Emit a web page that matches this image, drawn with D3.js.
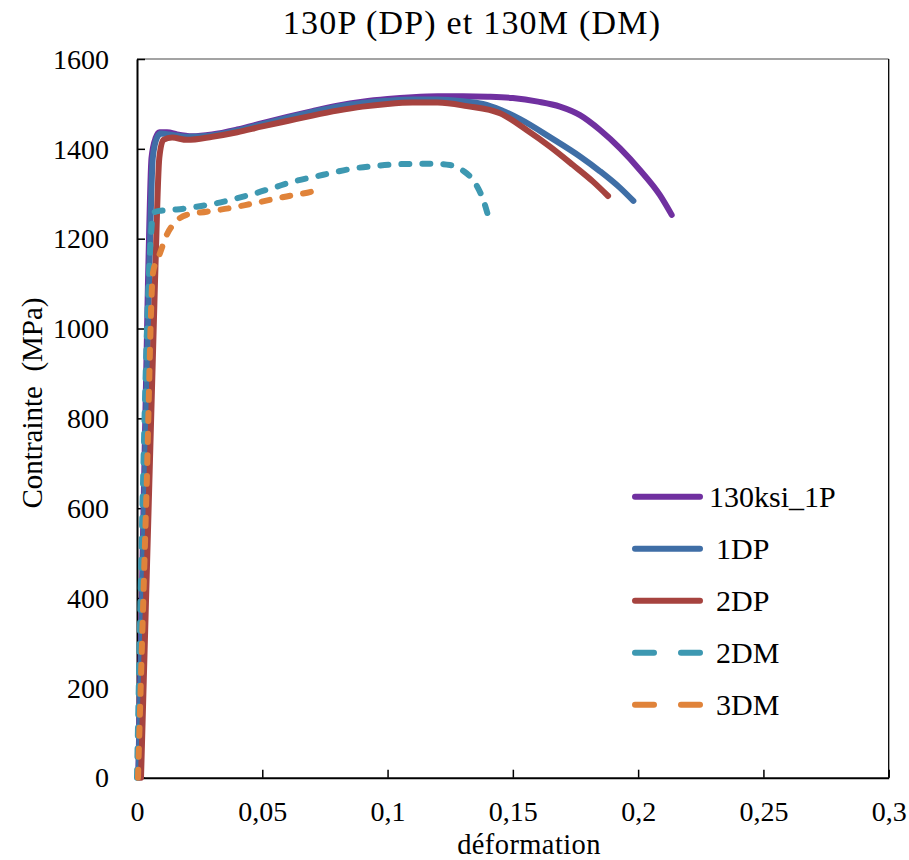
<!DOCTYPE html>
<html>
<head>
<meta charset="utf-8">
<script src="https://cdn.jsdelivr.net/npm/d3@7"></script>
<style>
html, body { margin: 0; padding: 0; background: #fff; }
svg { display: block; }
svg text { font-family: "Liberation Serif", "Times New Roman", Tinos, "DejaVu Serif", serif !important; fill: #000; }
</style>
</head>
<body>
<svg id="chart" width="909" height="860"></svg>
<script>
// ---- Data ----
const seriesNames = ["130ksi_1P", "1DP", "2DP", "2DM", "3DM"];
const seriesColors = ["#7030A0", "#3F6EA6", "#A6433F", "#3D98B1", "#E0833A"];
const seriesDashed = [false, false, false, true, true];

const p1X = [0.0005, 0.0044, 0.0058, 0.0075, 0.009, 0.012, 0.016, 0.022, 0.03, 0.04, 0.05, 0.06, 0.07, 0.08, 0.09, 0.1, 0.11, 0.12, 0.13, 0.14, 0.15, 0.16, 0.1688, 0.1768, 0.1848, 0.1928, 0.2007, 0.2087, 0.2134];
const p1Y = [0, 1108, 1380, 1425, 1437, 1437, 1432, 1428, 1432, 1443, 1457, 1471, 1484, 1496, 1505, 1511, 1515, 1517, 1517, 1516, 1513, 1505, 1494, 1475, 1442, 1401, 1353, 1297, 1253];

const dp1X = [0.0006, 0.0048, 0.0063, 0.008, 0.0095, 0.013, 0.02, 0.03, 0.04, 0.05, 0.06, 0.07, 0.08, 0.09, 0.1, 0.11, 0.12, 0.13, 0.138, 0.145, 0.1529, 0.1648, 0.1768, 0.1848, 0.1928, 0.1981];
const dp1Y = [0, 1100, 1380, 1425, 1434, 1432, 1427, 1430, 1441, 1455, 1469, 1482, 1494, 1502, 1507, 1510, 1510, 1506, 1500, 1487, 1466, 1426, 1383, 1350, 1313, 1284];

const dp2X = [0.0016, 0.0072, 0.0089, 0.0105, 0.014, 0.02, 0.03, 0.04, 0.05, 0.06, 0.07, 0.08, 0.09, 0.1, 0.11, 0.12, 0.1316, 0.1449, 0.1555, 0.1648, 0.174, 0.182, 0.188];
const dp2Y = [0, 1108, 1380, 1420, 1425, 1420, 1427, 1437, 1450, 1462, 1474, 1485, 1494, 1500, 1503, 1503, 1495, 1479, 1442, 1405, 1364, 1327, 1295];

const dm2X = [0, 0.0055, 0.0065, 0.009, 0.0158, 0.0238, 0.0318, 0.0398, 0.0478, 0.0558, 0.0637, 0.0717, 0.0797, 0.085, 0.095, 0.105, 0.1183, 0.1249, 0.1302, 0.1342, 0.1382, 0.1409];
const dm2Y = [0, 1200, 1258, 1262, 1265, 1271, 1279, 1290, 1302, 1316, 1329, 1339, 1349, 1355, 1362, 1366, 1367, 1364, 1351, 1330, 1286, 1235];

const dm3X = [0.0004, 0.0037, 0.0064, 0.009, 0.012, 0.015, 0.0198, 0.0278, 0.0371, 0.0451, 0.0544, 0.0624, 0.0704, 0.0714];
const dm3Y = [0, 618, 1125, 1165, 1210, 1235, 1253, 1260, 1268, 1277, 1288, 1297, 1306, 1308];

const xTicks = [0, 0.05, 0.1, 0.15, 0.2, 0.25, 0.3];
const xTickLabels = ["0", "0,05", "0,1", "0,15", "0,2", "0,25", "0,3"];
const yTicks = [0, 200, 400, 600, 800, 1000, 1200, 1400, 1600];

const titleText = "130P (DP) et 130M (DM)";
const xLabel = "déformation";
const yLabel = "Contrainte  (MPa)";

// ---- Build ----
const FONT = '"Liberation Serif", "Times New Roman", Tinos, "DejaVu Serif", serif';
const seriesX = [p1X, dp1X, dp2X, dm2X, dm3X];
const seriesY = [p1Y, dp1Y, dp2Y, dm2Y, dm3Y];
const series = seriesNames.map((n, i) => ({
  name: n, color: seriesColors[i], dashed: seriesDashed[i],
  pts: seriesX[i].map((x, j) => [x, seriesY[i][j]])
}));

const svg = d3.select("#chart").attr("font-family", FONT);
const L = 137, R = 888.7, T = 59, B = 777.7;
const x = d3.scaleLinear().domain([0, 0.3]).range([L, R]);
const y = d3.scaleLinear().domain([0, 1600]).range([B, T]);

// frame: top (gray) and right (black)
svg.append("line").attr("x1", L).attr("x2", R).attr("y1", T).attr("y2", T)
  .attr("stroke", "#858585").attr("stroke-width", 1.5);
svg.append("line").attr("x1", R).attr("x2", R).attr("y1", T).attr("y2", B)
  .attr("stroke", "#000").attr("stroke-width", 1.3);

// title
svg.append("text").attr("x", 472).attr("y", 34).attr("text-anchor", "middle")
  .attr("font-family", FONT).attr("font-size", 34).attr("letter-spacing", 1.2).text(titleText);

// x axis
const xAxis = svg.append("g").attr("transform", `translate(0,${B})`)
  .call(d3.axisBottom(x).tickValues(xTicks).tickFormat((d, i) => xTickLabels[i]).tickSizeInner(-8).tickSizeOuter(0).tickPadding(0))
  .attr("font-family", FONT);
xAxis.select(".domain").attr("stroke", "#000").attr("stroke-width", 2);
xAxis.selectAll(".tick line").attr("stroke", "#000").attr("stroke-width", 1.5);
xAxis.selectAll(".tick text").attr("font-size", 28).attr("font-family", FONT)
  .attr("fill", "#000").attr("dy", null).attr("y", 43);

// y axis
const yAxis = svg.append("g").attr("transform", `translate(${L},0)`)
  .call(d3.axisLeft(y).tickValues(yTicks).tickFormat(d3.format("d")).tickSizeInner(-8).tickSizeOuter(0).tickPadding(0))
  .attr("font-family", FONT);
yAxis.select(".domain").attr("stroke", "#000").attr("stroke-width", 2);
yAxis.selectAll(".tick line").attr("stroke", "#000").attr("stroke-width", 1.5);
yAxis.selectAll(".tick text").attr("font-size", 28).attr("font-family", FONT)
  .attr("fill", "#000").attr("x", -28).attr("dy", "0.33em");

// axis titles
svg.append("text").attr("x", 529).attr("y", 853.5).attr("text-anchor", "middle")
  .attr("font-family", FONT).attr("font-size", 28.5).attr("letter-spacing", 0.4).text(xLabel);
svg.append("text").attr("transform", "translate(42,403) rotate(-90)").attr("text-anchor", "middle")
  .attr("font-family", FONT).attr("font-size", 29).style("white-space", "pre").text(yLabel);

// lines
const line = d3.line().x(d => x(d[0])).y(d => y(d[1])).curve(d3.curveMonotoneX);
const gLines = svg.append("g");
series.forEach(s => {
  gLines.append("path").datum(s.pts).attr("d", line)
    .attr("fill", "none").attr("stroke", s.color).attr("stroke-width", 6)
    .attr("stroke-linecap", "round").attr("stroke-linejoin", "round")
    .attr("stroke-dasharray", s.dashed ? "8,13" : null);
});

// legend
const legY0 = 496.7, legStep = 52;
series.forEach((s, i) => {
  const yy = legY0 + i * legStep;
  svg.append("line").attr("x1", 635).attr("x2", 700).attr("y1", yy).attr("y2", yy)
    .attr("stroke", s.color).attr("stroke-width", 6).attr("stroke-linecap", "round")
    .attr("stroke-dasharray", s.dashed ? "19,27" : null);
  svg.append("text").attr("x", i === 0 ? 709 : 716).attr("y", yy + 10)
    .attr("font-family", FONT).attr("font-size", 30).text(s.name);
});
</script>
</body>
</html>
